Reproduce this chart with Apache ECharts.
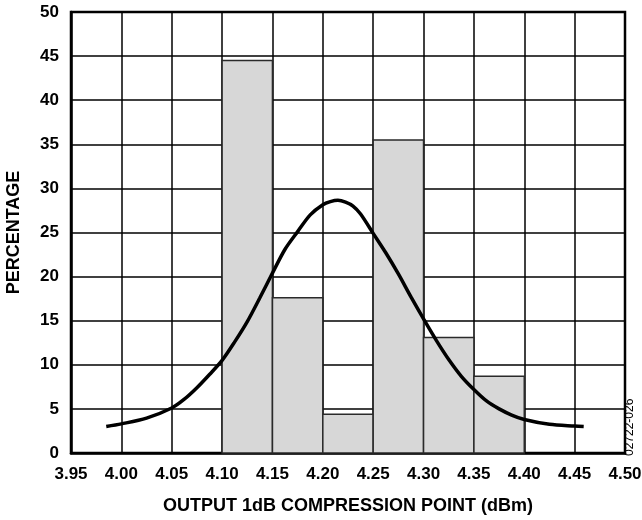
<!DOCTYPE html>
<html>
<head>
<meta charset="utf-8">
<script src="https://cdn.jsdelivr.net/npm/echarts@6/dist/echarts.min.js"></script>
<style>
html,body{margin:0;padding:0;background:#fff;}
#chart{width:642px;height:520px;}
</style>
</head>
<body>
<div id="chart"></div>
<script>
// Histogram bins (lower edge, upper edge) and percentages
var binStart = [4.10, 4.15, 4.20, 4.25, 4.30, 4.35];
var binEnd   = [4.15, 4.20, 4.25, 4.30, 4.35, 4.40];
var binPct   = [44.5, 17.6, 4.4, 35.5, 13.1, 8.7];

// Fitted curve points
var curveX = [3.985, 4.00, 4.025, 4.05, 4.0625, 4.075, 4.0875, 4.10, 4.1125, 4.125, 4.1375, 4.15, 4.1625, 4.175, 4.1875, 4.20, 4.2075, 4.215, 4.2225, 4.23, 4.2375, 4.25, 4.2625, 4.275, 4.2875, 4.30, 4.3125, 4.325, 4.3375, 4.35, 4.3625, 4.375, 4.3875, 4.40, 4.425, 4.45, 4.459];
var curveY = [3.0, 3.3, 3.95, 5.1, 6.1, 7.4, 8.9, 10.5, 12.6, 14.9, 17.6, 20.4, 23.1, 25.1, 27.0, 28.15, 28.5, 28.65, 28.45, 28.0, 27.1, 24.9, 22.7, 20.3, 17.7, 15.2, 12.8, 10.6, 8.7, 7.2, 5.9, 5.0, 4.3, 3.8, 3.25, 3.05, 3.0];

// Axis ranges
var xMin = 3.95, xMax = 4.50, xStep = 0.05;
var yMin = 0, yMax = 50, yStep = 5;

var barData = binStart.map(function (s, i) { return [s, binEnd[i], binPct[i]]; });
var lineData = curveX.map(function (x, i) { return [x, curveY[i]]; });

var font = 'Liberation Sans, Arial, Helvetica, sans-serif';
var chart = echarts.init(document.getElementById('chart'), null, {renderer: 'canvas'});
chart.setOption({
  animation: false,
  backgroundColor: '#fff',
  grid: {left: 71, top: 12, right: 17, bottom: 67, outerBoundsMode: 'none', containLabel: false,
    show: true, borderColor: '#000', borderWidth: 2.5, backgroundColor: 'transparent'},
  xAxis: {
    type: 'value', min: xMin, max: xMax, interval: xStep,
    name: 'OUTPUT 1dB COMPRESSION POINT (dBm)', nameLocation: 'middle', nameGap: 44,
    nameTextStyle: {fontFamily: font, fontWeight: 'bold', fontSize: 18, color: '#000'},
    axisLine: {show: true, lineStyle: {color: '#000', width: 2.5}},
    axisTick: {show: false},
    axisLabel: {fontFamily: font, fontWeight: 'bold', fontSize: 17, color: '#000', margin: 13,
      formatter: function (v) { return v.toFixed(2); }},
    splitLine: {show: true, lineStyle: {color: '#000', width: 1.5}}
  },
  yAxis: {
    type: 'value', min: yMin, max: yMax, interval: yStep,
    name: 'PERCENTAGE', nameLocation: 'middle', nameGap: 48, nameRotate: 90,
    nameTextStyle: {fontFamily: font, fontWeight: 'bold', fontSize: 18, color: '#000'},
    axisLine: {show: true, lineStyle: {color: '#000', width: 2.5}},
    axisTick: {show: false},
    axisLabel: {fontFamily: font, fontWeight: 'bold', fontSize: 17, color: '#000', margin: 12},
    splitLine: {show: true, lineStyle: {color: '#000', width: 1.5}}
  },
  series: [
    {
      type: 'custom',
      data: barData,
      encode: {x: [0, 1], y: 2},
      renderItem: function (params, api) {
        var p0 = api.coord([api.value(0), api.value(2)]);
        var p1 = api.coord([api.value(1), 0]);
        return {
          type: 'rect',
          shape: {x: p0[0], y: p0[1], width: p1[0] - p0[0], height: p1[1] - p0[1]},
          style: {fill: '#d7d7d7', stroke: '#2a2a2a', lineWidth: 1.5}
        };
      },
      z: 2
    },
    {
      type: 'line',
      data: lineData,
      smooth: 0.3,
      showSymbol: false,
      lineStyle: {color: '#000', width: 3.5},
      z: 3
    }
  ],
  graphic: [{
    type: 'text',
    x: 636, y: 456,
    rotation: Math.PI / 2,
    style: {text: '02722-026', fontFamily: font, fontSize: 12, fill: '#000', textAlign: 'left', textVerticalAlign: 'bottom'}
  }]
});
</script>
</body>
</html>
